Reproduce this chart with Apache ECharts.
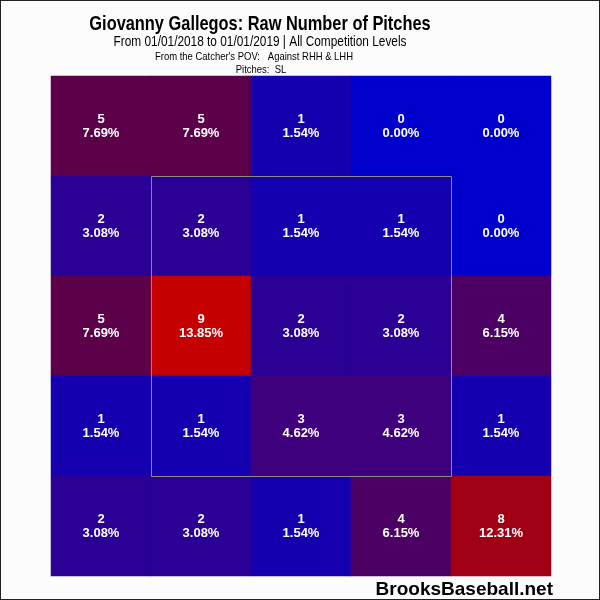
<!DOCTYPE html>
<html><head><meta charset="utf-8">
<script src="https://cdn.jsdelivr.net/npm/echarts@6/dist/echarts.min.js"></script>
<style>
html,body{margin:0;padding:0;background:#fff;}
#c{width:600px;height:600px;box-sizing:border-box;border:1px solid #222;background:#fcfcfc;}
</style></head>
<body><div id="c"></div>
<script>
// Columns left->right, rows top->bottom (catcher's POV)
const cols = ['c1','c2','c3','c4','c5'];
const rows = ['r1','r2','r3','r4','r5'];
const counts = [
  [5,5,1,0,0],
  [2,2,1,1,0],
  [5,9,2,2,4],
  [1,1,3,3,1],
  [2,2,1,4,8]
];
const pcts = [
  ['7.69%','7.69%','1.54%','0.00%','0.00%'],
  ['3.08%','3.08%','1.54%','1.54%','0.00%'],
  ['7.69%','13.85%','3.08%','3.08%','6.15%'],
  ['1.54%','1.54%','4.62%','4.62%','1.54%'],
  ['3.08%','3.08%','1.54%','6.15%','12.31%']
];
const colorScale = ['#0000CC','#1500B0','#2A0095','#3E007C','#4D0063','#5C004A','#740038','#8B0026','#A10014','#C50000'];
const titleText = 'Giovanny Gallegos: Raw Number of Pitches';
const subText = 'From 01/01/2018 to 01/01/2019 | All Competition Levels';
const povText = "From the Catcher's POV:   Against RHH & LHH";
const pitchText = 'Pitches:  SL';
const brandText = 'BrooksBaseball.net';

const data = [];
rows.forEach((r,ri)=>cols.forEach((c,ci)=>data.push([ci,ri,counts[ri][ci],pcts[ri][ci]])));

const chart = echarts.init(document.getElementById('c'));
const sans = '"Liberation Sans",Arial,sans-serif';
function txt(t,x,y,size,weight,sx,align){
  return {type:'text',x:x,y:y,scaleX:sx||1,z:100,
    style:{text:t,fill:'#000',font:(weight||'normal')+' '+size+'px '+sans,textAlign:align||'center',textVerticalAlign:'middle'}};
}
chart.setOption({
  animation:false,
  grid:{left:50,top:75,width:500,height:500},
  xAxis:{type:'category',data:cols,show:false},
  yAxis:{type:'category',data:rows,inverse:true,show:false},
  visualMap:{show:false,min:0,max:9,calculable:false,dimension:2,inRange:{color:colorScale}},
  series:[{
    type:'heatmap',
    data:data,
    itemStyle:{borderWidth:0},
    label:{show:true,formatter:p=>p.data[2]+'\n'+p.data[3],color:'#fff',fontWeight:'bold',fontSize:13,lineHeight:14,fontFamily:sans},
    emphasis:{disabled:true}
  }]
});
// strike zone: inner 3x3 cells
const a = chart.convertToPixel({gridIndex:0},[1,1]);
const b = chart.convertToPixel({gridIndex:0},[3,3]);
const cw = chart.convertToPixel({gridIndex:0},[2,1])[0]-a[0];
const ch = chart.convertToPixel({gridIndex:0},[1,2])[1]-a[1];
chart.setOption({graphic:[
  {type:'rect',z:100,shape:{x:a[0]-cw/2+0.5,y:a[1]-ch/2+0.5,width:b[0]-a[0]+cw,height:b[1]-a[1]+ch},style:{fill:'none',stroke:'#8a8a8a',lineWidth:1}},
  txt(titleText,259,23,21,'bold',0.78),
  txt(subText,259,41,15,'normal',0.79),
  txt(povText,253,56,11,'normal',0.86),
  txt(pitchText,260,69,11,'normal',0.86),
  txt(brandText,552,589,19,'bold',1,'right')
]});
</script></body></html>
